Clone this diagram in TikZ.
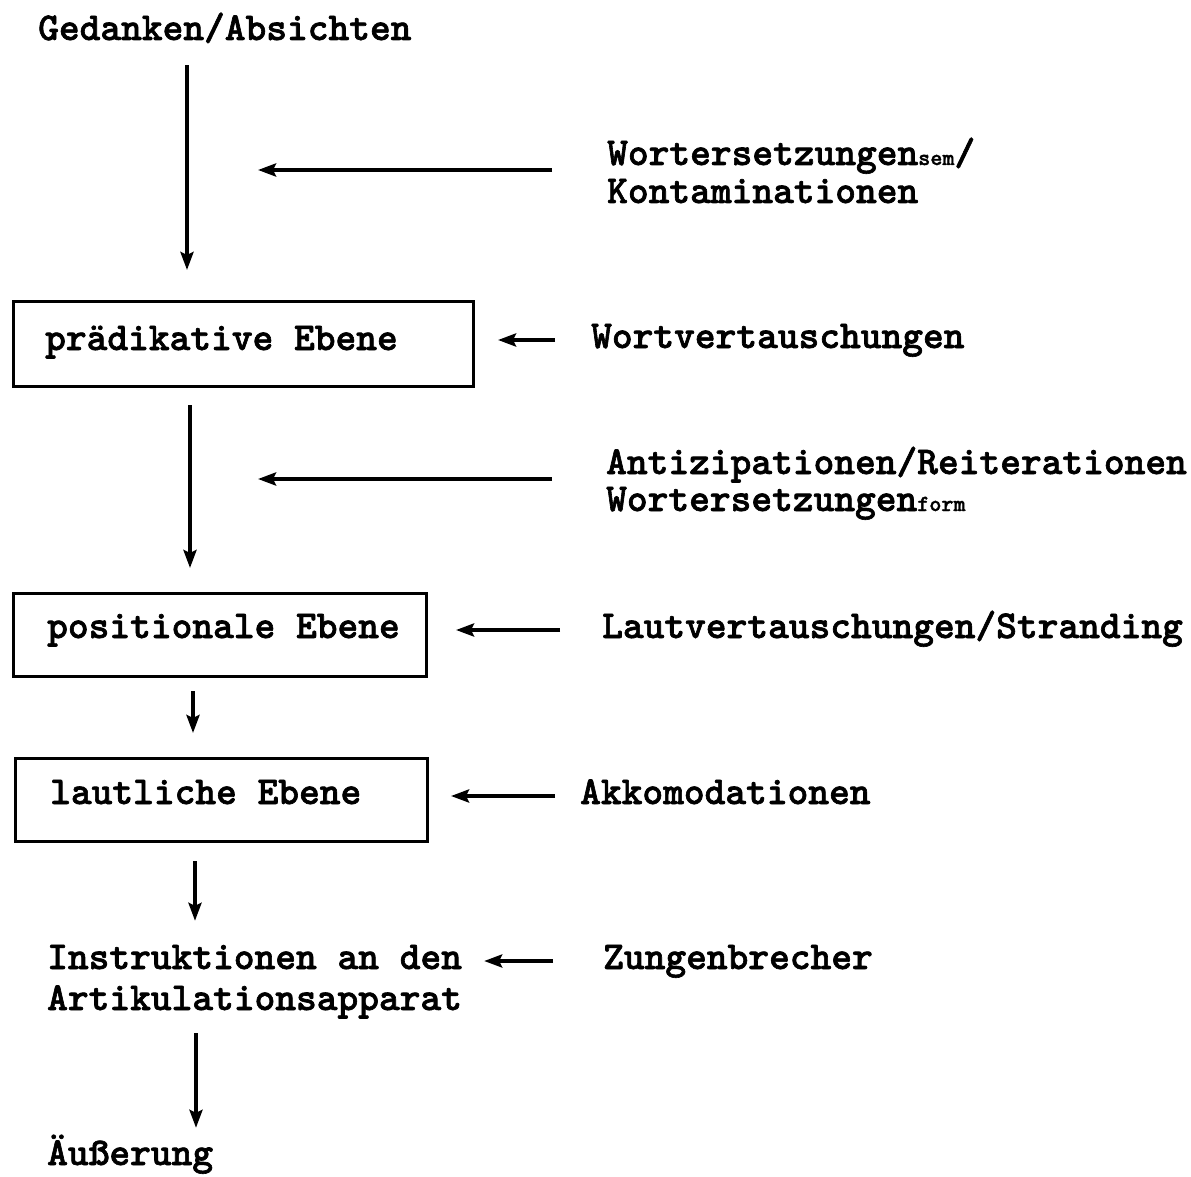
\documentclass[tikz,border=0pt]{standalone}
\usepackage{fontspec}
\newfontfamily\typew{lmmonolt10-bold.otf}[FakeBold=1.6]
\usetikzlibrary{arrows.meta}
\newcommand\smallidx[1]{{\fontsize{23}{23}\selectfont #1}}
\begin{document}
\begin{tikzpicture}[x=1pt,y=-1pt,
  txt/.style={font=\fontsize{39.5}{44}\typew, text height=24pt, text depth=8pt},
  lbl/.style={txt, anchor=base west, inner sep=0pt},
  level/.style={draw, line width=3pt, anchor=north west, inner sep=0pt},
  arr/.style={line width=3.6pt, -{Stealth[length=18pt,width=13pt,inset=3pt]}}]
\useasboundingbox (0,0) rectangle (1191,1177);

% left column
\node[lbl] (ged) at (38,40) {Gedanken/Absichten};
\node[level, minimum width=460pt, minimum height=85pt] (pe) at (12,300) {};
\node[lbl] (pet) at (45,350) {prädikative Ebene};
\node[level, minimum width=413pt, minimum height=83pt] (pos) at (12,592) {};
\node[lbl] (post) at (47,638) {positionale Ebene};
\node[level, minimum width=412pt, minimum height=83pt] (lt) at (14,757) {};
\node[lbl] (ltt) at (50,804) {lautliche Ebene};
\node[lbl] (ins) at (47,969) {Instruktionen an den};
\node[lbl] (art) at (47,1010) {Artikulationsapparat};
\node[lbl] (aeu) at (47,1165) {Äußerung};

% right column
\node[lbl] (ws1) at (607,165) {Wortersetzungen\smallidx{sem}/};
\node[lbl] (ws2) at (607,203) {Kontaminationen};
\node[lbl] (wv) at (591,348) {Wortvertauschungen};
\node[lbl] (an1) at (606,474) {Antizipationen/Reiterationen};
\node[lbl] (an2) at (606,511) {Wortersetzungen\smallidx{form}};
\node[lbl] (lv) at (602,638) {Lautvertauschungen/Stranding};
\node[lbl] (ak) at (580,804) {Akkomodationen};
\node[lbl] (zb) at (603,969) {Zungenbrecher};

% vertical flow
\draw[arr, shorten <=17pt, shorten >=30pt] (ged.south -| 187,0) -- (pe.north -| 187,0);
\draw[arr, shorten <=17pt, shorten >=24pt] (pe.south -| 190,0) -- (pos.north -| 190,0);
\draw[arr, shorten <=13pt, shorten >=24pt] (pos.south -| 193,0) -- (lt.north -| 193,0);
\draw[arr, shorten <=18pt, shorten >=24pt] (lt.south -| 195,0) -- (ins.north -| 195,0);
\draw[arr, shorten <=15pt, shorten >=13pt] (art.south -| 196,0) -- (aeu.north -| 196,0);

% error arrows between levels
\coordinate (h1s) at (552,170);
\coordinate (h1e) at (258,170);
\draw[arr] (h1s) -- (h1e);
\coordinate (h2s) at (552,479);
\coordinate (h2e) at (258,479);
\draw[arr] (h2s) -- (h2e);

% error arrows at levels
\draw[arr, shorten <=36pt, shorten >=23pt] (wv.west) -- (wv.west -| pe.east);
\draw[arr, shorten <=42pt, shorten >=28pt] (lv.west) -- (lv.west -| pos.east);
\draw[arr, shorten <=25pt, shorten >=22pt] (ak.west) -- (ak.west -| lt.east);
\draw[arr, shorten <=50pt, shorten >=22pt] (zb.west) -- (zb.west -| ins.east);
\end{tikzpicture}
\end{document}
